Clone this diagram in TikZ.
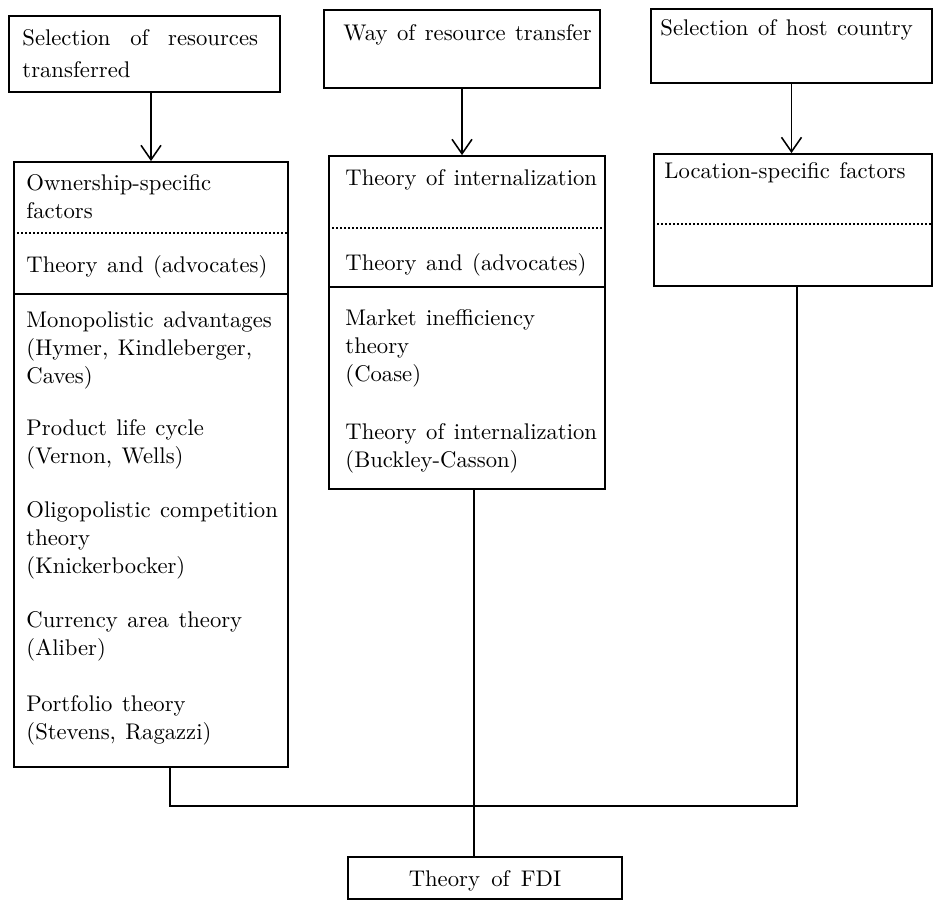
\documentclass[tikz,border=0pt]{standalone}
\usetikzlibrary{arrows.meta,fit}
\newcommand\diagfont{\fontsize{10.2}{12.6}\selectfont\spaceskip=0.42em plus 0.1em minus 0.05em\relax}
\newcommand\diagfontwide{\fontsize{10.2}{12.6}\selectfont\spaceskip=0.5em plus 0.1em minus 0.05em\relax}
\begin{document}
\begin{tikzpicture}[x=0.45pt,y=-0.45pt,
  boxn/.style={draw, line width=0.8pt, inner sep=0pt, fit={#1}},
  txt/.style={anchor=base west, inner sep=0pt, font=\diagfont},
  ctxt/.style={anchor=base, inner sep=0pt, font=\diagfontwide},
  arr/.style={line width=0.7pt, -{Straight Barb[length=6.5pt,width=9pt,line width=0.7pt]}},
  conn/.style={line width=0.7pt},
  divdot/.style={line width=0.6pt, dash pattern=on 0.9pt off 0.9pt},
  divsol/.style={line width=0.8pt}]
\useasboundingbox (0,0) rectangle (933,901);

% boxes
\node[boxn={(9,16) (280,92)}] (b1) {};
\node[boxn={(324,10) (600,88)}] (b2) {};
\node[boxn={(651,9) (932,83)}] (b3) {};
\node[boxn={(14,162) (288,767)}] (b4) {};
\node[boxn={(329,156) (605,489)}] (b5) {};
\node[boxn={(654,154) (932,286)}] (b6) {};
\node[boxn={(348,857) (622,899)}] (fdi) {};

% dividers
\draw[divdot] (b4.west |- 0,233) -- (b4.east |- 0,233);
\draw[divsol] (b4.west |- 0,294) -- (b4.east |- 0,294);
\draw[divdot] (b5.west |- 0,228) -- (b5.east |- 0,228);
\draw[divsol] (b5.west |- 0,287) -- (b5.east |- 0,287);
\draw[divdot] (b6.west |- 0,224) -- (b6.east |- 0,224);

% texts top row
\node[txt] (t1a) at (22,46) {\makebox[106pt][s]{Selection of resources}};
\node[txt] (t1b) at (22,78) {transferred};
\node[txt] (t2) at (343,41) {Way of resource transfer};
\node[txt] (t3) at (660,36) {Selection of host country};

% box 4
\node[txt] (o1) at (26,191) {Ownership-specific};
\node[txt] (o2) at (26,219) {factors};
\node[txt] (o3) at (26,273) {Theory and (advocates)};
\node[txt] (o4) at (26,328) {Monopolistic advantages};
\node[txt] (o5) at (26,356) {(Hymer, Kindleberger,};
\node[txt] (o6) at (26,384) {Caves)};
\node[txt] (o7) at (26,436) {Product life cycle};
\node[txt] (o8) at (26,464) {(Vernon, Wells)};
\node[txt] (o9) at (26,518) {Oligopolistic competition};
\node[txt] (o10) at (26,546) {theory};
\node[txt] (o11) at (26,574) {(Knickerbocker)};
\node[txt] (o12) at (26,628) {Currency area theory};
\node[txt] (o13) at (26,656) {(Aliber)};
\node[txt] (o14) at (26,711) {Portfolio theory};
\node[txt] (o15) at (26,739) {(Stevens, Ragazzi)};

% box 5
\node[txt] (i1) at (345,186) {Theory of internalization};
\node[txt] (i2) at (345,271) {Theory and (advocates)};
\node[txt] (i3) at (345,326) {Market inefficiency};
\node[txt] (i4) at (345,354) {theory};
\node[txt] (i5) at (345,382) {(Coase)};
\node[txt] (i6) at (345,440) {Theory of internalization};
\node[txt] (i7) at (345,468) {(Buckley-Casson)};

% box 6
\node[txt] (l1) at (664,179) {Location-specific factors};

% FDI
\node[ctxt] (f1) at (485,886) {Theory of FDI};

% arrows
\draw[arr] (b1.south -| b4.north) -- (b4.north);
\draw[arr] (b2.south) -- (b2.south |- b5.north);
\draw[arr] (b3.south) -- (b3.south |- b6.north);

% bottom connectors
\coordinate (j1) at (170,806);
\coordinate (j2) at (797,806);
\coordinate (mx) at (474,806);
\draw[conn] (b4.south -| j1) -- (j1) -- (j2) -- (j2 |- b6.south);
\draw[conn] (b5.south -| mx) -- (fdi.north -| mx);
\end{tikzpicture}
\end{document}
